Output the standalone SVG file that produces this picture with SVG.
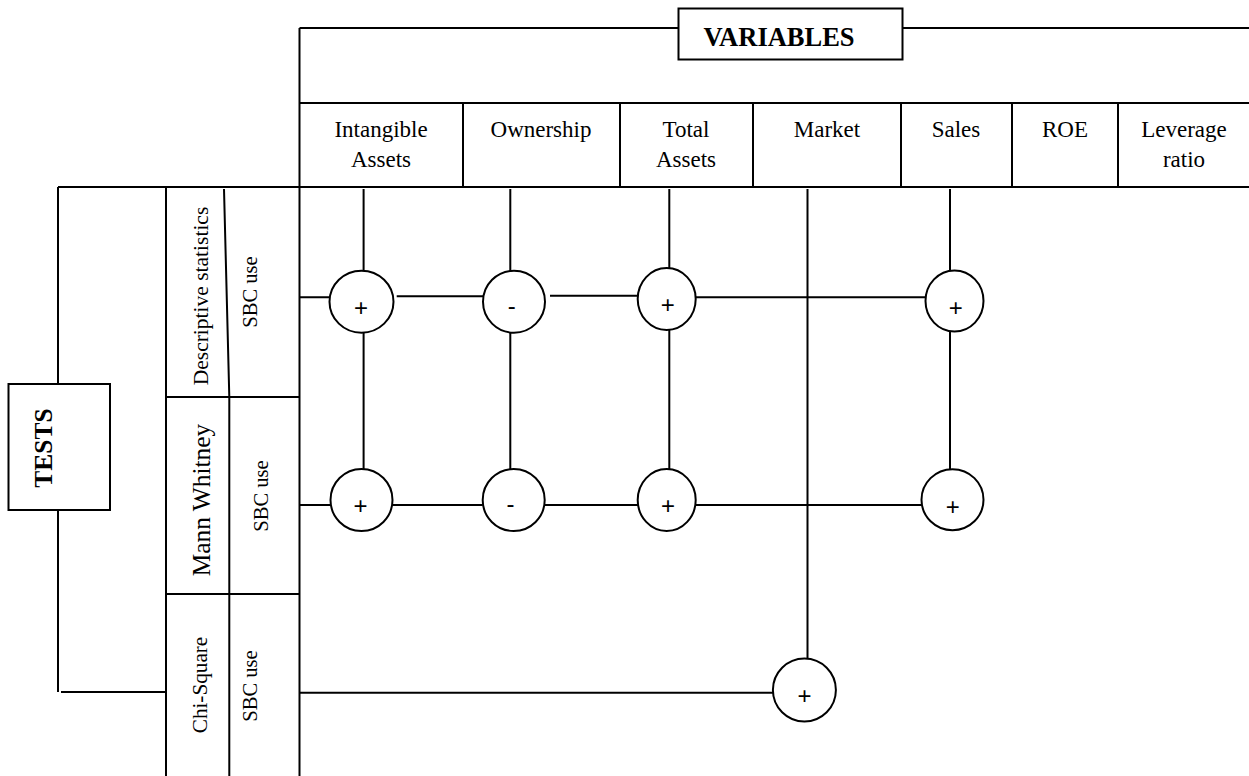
<svg xmlns="http://www.w3.org/2000/svg" width="1249" height="776" viewBox="0 0 1249 776">
<style>
.ln{stroke:#000;stroke-width:2;fill:none}
.box{stroke:#000;stroke-width:2;fill:#fff}
.c{stroke:#000;stroke-width:2;fill:#fff}
.hd{font-family:"Liberation Serif","Times New Roman",serif;font-size:23px;text-anchor:middle;fill:#000}
.rt{font-family:"Liberation Serif","Times New Roman",serif;text-anchor:middle;fill:#000}
.sg{font-family:"Liberation Sans",Arial,sans-serif;font-size:24px;text-anchor:middle;fill:#000}
</style>
<rect width="1249" height="776" fill="#fff"/>

<g id="variables-bracket">
<path class="ln" d="M299.5,28 H678 M902,28 H1249 M299.5,28 V776"/>
</g>
<g id="variables">
<rect class="box" x="678.5" y="8.5" width="224" height="51"/>
<text x="779" y="46" font-family="Liberation Serif,'Times New Roman',serif" font-size="26.5" font-weight="bold" text-anchor="middle">VARIABLES</text>
</g>

<g id="header">
<path class="ln" d="M299.5,103 H1249 M58,187 H1249 M463,103 V187 M620,103 V187 M753,103 V187 M901,103 V187 M1012,103 V187 M1118,103 V187"/>
</g>
<g id="var-intangible"><text class="hd" x="381" y="137">Intangible</text><text class="hd" x="381" y="167">Assets</text></g>
<g id="var-ownership"><text class="hd" x="541" y="137">Ownership</text></g>
<g id="var-total"><text class="hd" x="686" y="137">Total</text><text class="hd" x="686" y="167">Assets</text></g>
<g id="var-market"><text class="hd" x="827" y="137">Market</text></g>
<g id="var-sales"><text class="hd" x="956" y="137">Sales</text></g>
<g id="var-roe"><text class="hd" x="1065" y="137">ROE</text></g>
<g id="var-leverage"><text class="hd" x="1184" y="137">Leverage</text><text class="hd" x="1184" y="167">ratio</text></g>

<g id="tests">
<path class="ln" d="M58,187 V384 M58,510 V692 M61,692 H166"/>
<rect class="box" x="8.5" y="384" width="101.5" height="126"/>
<text class="rt" transform="translate(51.5,448) rotate(-90)" font-size="25.5" font-weight="bold">TESTS</text>
</g>

<g id="tests-table">
<path class="ln" d="M166,187 V776 M224,189 L229.3,397 V776"/>
<path class="ln" stroke-width="3" d="M166,397 H299.5"/>
<path class="ln" d="M166,594 H299.5"/>
</g>
<g id="test-descriptive">
<text class="rt" transform="translate(207.5,296) rotate(-90)" font-size="21.5">Descriptive statistics</text>
<text class="rt" transform="translate(257,292) rotate(-90)" font-size="20.6">SBC use</text>
</g>
<g id="test-mann">
<text class="rt" transform="translate(209.5,500) rotate(-90)" font-size="25.4">Mann Whitney</text>
<text class="rt" transform="translate(267.5,496) rotate(-90)" font-size="20.6">SBC use</text>
</g>
<g id="test-chi">
<text class="rt" transform="translate(207,685) rotate(-90)" font-size="21.2">Chi-Square</text>
<text class="rt" transform="translate(256.5,686) rotate(-90)" font-size="20.6">SBC use</text>
</g>

<g id="connectors">
<path class="ln" d="M363.6,189 V271 M363.6,332.5 V469.5 M510.3,189 V271 M510.3,332.5 V469.5 M669.3,189 V268.5 M669.3,330 V469.5 M807.5,189 V658.5 M950,189 V271 M950,331.5 V469.5"/>
<path class="ln" d="M300,297.3 H330 M396.7,296.3 H483 M550,295.7 H638 M695.7,297.3 H925.7"/>
<path class="ln" d="M300,505 H330.5 M392.7,505 H482.7 M544.8,505 H638 M695.4,505 H921.7"/>
<path class="ln" d="M300,692.7 H773"/>
</g>

<g id="r1-intangible"><ellipse class="c" cx="361.5" cy="301.7" rx="32" ry="31"/><text class="sg" x="361" y="316">+</text></g>
<g id="r1-ownership"><ellipse class="c" cx="514" cy="301.7" rx="31" ry="31"/><text class="sg" x="511.7" y="314">-</text></g>
<g id="r1-total"><ellipse class="c" cx="666.7" cy="299" rx="29" ry="31"/><text class="sg" x="667.8" y="313">+</text></g>
<g id="r1-sales"><ellipse class="c" cx="954.5" cy="301" rx="29" ry="30.5"/><text class="sg" x="955.8" y="316">+</text></g>
<g id="r2-intangible"><ellipse class="c" cx="361.5" cy="500" rx="31" ry="31"/><text class="sg" x="360.5" y="514">+</text></g>
<g id="r2-ownership"><ellipse class="c" cx="513.7" cy="500" rx="31" ry="31"/><text class="sg" x="510.5" y="512">-</text></g>
<g id="r2-total"><ellipse class="c" cx="666.7" cy="500" rx="29" ry="31"/><text class="sg" x="668" y="514">+</text></g>
<g id="r2-sales"><ellipse class="c" cx="952.5" cy="499.7" rx="31" ry="30.5"/><text class="sg" x="952.7" y="515">+</text></g>
<g id="r3-market"><ellipse class="c" cx="804.4" cy="690" rx="31.5" ry="31.5"/><text class="sg" x="804.6" y="704">+</text></g>
</svg>
